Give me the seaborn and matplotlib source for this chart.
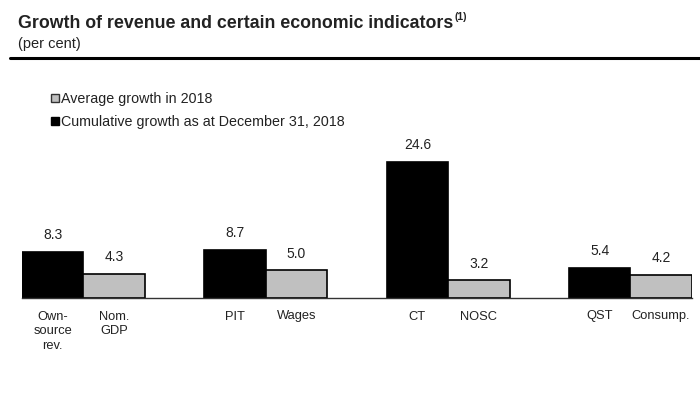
import matplotlib
matplotlib.use("Agg")
import matplotlib.pyplot as plt
import seaborn as sns
import pandas as pd
from matplotlib.lines import Line2D

# ---- data ----
groups = ["Own-source rev.", "PIT", "CT", "QST"]
black_labels = ["Own-\nsource\nrev.", "PIT", "CT", "QST"]
gray_labels = ["Nom.\nGDP", "Wages", "NOSC", "Consump."]
cumulative = [8.3, 8.7, 24.6, 5.4]
average = [4.3, 5.0, 3.2, 4.2]
series_names = ["Cumulative growth as at December 31, 2018", "Average growth in 2018"]

sns.set_theme(style="white")
plt.rcParams["font.family"] = ["Liberation Sans", "DejaVu Sans"]

df = pd.DataFrame({
    "group": groups * 2,
    "series": [series_names[0]] * 4 + [series_names[1]] * 4,
    "value": cumulative + average,
})

fig = plt.figure(figsize=(7.0, 3.97), dpi=100)
ax = fig.add_axes([22 / 700, (397 - 298) / 397, (692 - 22) / 700, (298 - 143) / 397])

palette = {series_names[0]: "#000000", series_names[1]: "#c0c0c0"}
sns.barplot(data=df, x="group", y="value", hue="series", hue_order=series_names,
            palette=palette, width=0.674, dodge=True, edgecolor="black",
            linewidth=1.2, saturation=1, legend=False, ax=ax)

for cont in ax.containers:
    ax.bar_label(cont, fmt="%.1f", padding=7, fontsize=10, color="#222222")

ax.set_ylim(0, 28)
ax.set_xlim(-0.337, 3.338)
off = 0.674 / 4
ticks, labels = [], []
for i in range(len(groups)):
    ticks += [i - off, i + off]
    labels += [black_labels[i], gray_labels[i]]
ax.set_xticks(ticks)
ax.set_xticklabels(labels, fontsize=9.3, color="#222222", linespacing=1.33, va="top")
ax.tick_params(axis="x", length=0, pad=9)
ax.set_yticks([])
ax.set_xlabel("")
ax.set_ylabel("")
for s in ["top", "right", "left"]:
    ax.spines[s].set_visible(False)
ax.spines["bottom"].set_color("#333333")
ax.spines["bottom"].set_linewidth(1.0)

# legend
handles = [
    Line2D([], [], marker="s", linestyle="none", markersize=5.5,
           markerfacecolor="#c0c0c0", markeredgecolor="#333333", markeredgewidth=1),
    Line2D([], [], marker="s", linestyle="none", markersize=5.5,
           markerfacecolor="#000000", markeredgecolor="#000000"),
]
fig.legend(handles, [series_names[1], series_names[0]], loc="upper left",
           bbox_to_anchor=(51 / 700, 1 - 92 / 397), frameon=False, fontsize=10.3,
           handlelength=0.6, handletextpad=0.12, labelspacing=0.6,
           borderaxespad=0, borderpad=0, labelcolor="#222222")

# title
t = fig.text(18 / 700, 1 - 28 / 397, "Growth of revenue and certain economic indicators",
             fontsize=12.8, fontweight="bold", color="#222222", ha="left", va="baseline")
fig.canvas.draw()
bb = t.get_window_extent(renderer=fig.canvas.get_renderer())
fig.text((bb.x1 + 1) / fig.bbox.width, 1 - 20 / 397, "(1)", fontsize=7.5,
         fontweight="bold", color="#222222", ha="left", va="baseline")
fig.text(18 / 700, 1 - 48 / 397, "(per cent)", fontsize=10.5, color="#222222",
         ha="left", va="baseline")
fig.add_artist(Line2D([10 / 700, 1.0], [1 - 58 / 397, 1 - 58 / 397],
                      color="black", linewidth=2.2, transform=fig.transFigure))

fig.savefig("out.png", dpi=100, facecolor="white")
